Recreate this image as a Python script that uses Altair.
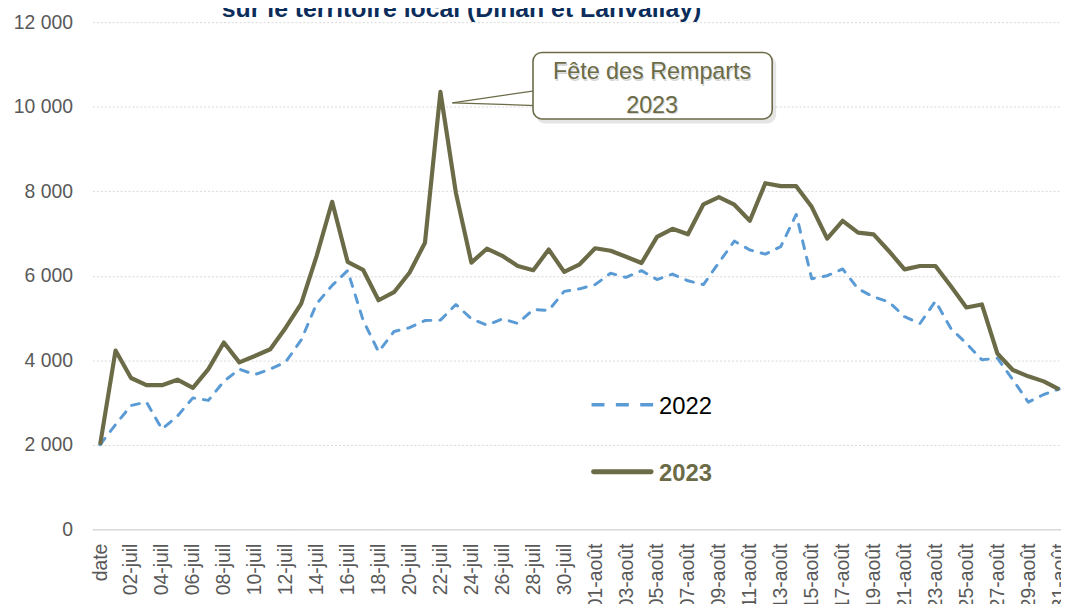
import altair as alt
import pandas as pd

# ---------------- data ----------------
cats = ["date"] + [f"{d:02d}-juil" for d in range(1, 32)] + [f"{d:02d}-août" for d in range(1, 32)]
tick_labels = cats[::2]
y_ticks = [0, 2000, 4000, 6000, 8000, 10000, 12000]

v2022 = [2000, 2480, 2930, 3010, 2370, 2680, 3110, 3050, 3500, 3790,
         3660, 3790, 3960, 4480, 5340, 5770, 6120, 4950, 4200, 4680,
         4770, 4940, 4950, 5320, 4980, 4830, 4980, 4870, 5200, 5180,
         5630, 5690, 5790, 6060, 5960, 6120, 5910, 6040, 5880, 5790,
         6310, 6820, 6610, 6510, 6690, 7450, 5930, 6000, 6160, 5690,
         5500, 5380, 5030, 4870, 5400, 4750, 4400, 4010, 4050, 3540,
         3010, 3190, 3320]

v2023 = [2000, 4230, 3580, 3410, 3410, 3540, 3345, 3790, 4420, 3950,
         4100, 4260, 4770, 5340, 6470, 7750, 6330, 6140, 5420, 5610,
         6070, 6780, 10350, 7960, 6310, 6640, 6470, 6230, 6130, 6620,
         6090, 6270, 6650, 6590, 6450, 6300, 6920, 7110, 6980, 7690,
         7860, 7680, 7300, 8190, 8120, 8120, 7630, 6880, 7300, 7020,
         6980, 6580, 6150, 6230, 6230, 5750, 5250, 5320, 4160, 3770,
         3620, 3500, 3310]

series_names = ["2022", "2023"]
title_text = "sur le territoire local (Dinan et Lanvallay)"
note_lines = ["Fête des Remparts", "2023"]
peak_cat = "22-juil"
peak_val = 10350

# ---------------- styles ----------------
OLIVE = "#6b6b47"
BLUE = "#5b9bd5"
NAVY = "#0b2d5b"
GRAY = "#595959"
GRID = "#d9d9d9"
FONT = "Liberation Sans"

df22 = pd.DataFrame({"cat": cats, "value": v2022})
df23 = pd.DataFrame({"cat": cats, "value": v2023})
one = pd.DataFrame({"k": [0]})
peak_df = pd.DataFrame({"cat": [peak_cat], "value": [peak_val]})

xscale = alt.Scale(type="point", domain=cats, range=[0, 982], padding=0.5)
yscale = alt.Scale(domain=[0, 12000])

X = alt.X("cat:N", scale=xscale, title=None,
          axis=alt.Axis(values=tick_labels, labelAngle=-90, labelPadding=14,
                        ticks=False, grid=False, domain=True, domainColor=GRID,
                        domainWidth=1.5, labelOverlap=False, labelFlush=False,
                        labelFontSize=19.5, labelColor=GRAY, labelFont=FONT))
Y = alt.Y("value:Q", scale=yscale, title=None,
          axis=alt.Axis(values=y_ticks, domain=False, ticks=False, labelPadding=20,
                        labelFontSize=19.5, labelColor=GRAY, labelFont=FONT,
                        grid=True, gridColor=GRID, gridDash=[2, 2], gridWidth=1,
                        labelExpr="replace(format(datum.value, ','), ',', ' ')"))

line22 = alt.Chart(df22).mark_line(color=BLUE, strokeWidth=3, strokeDash=[8, 9],
                                   strokeCap="round", strokeJoin="round").encode(x=X, y=Y)
line23 = alt.Chart(df23).mark_line(color=OLIVE, strokeWidth=4.2,
                                   strokeJoin="round").encode(x=X, y=Y)

# ---------------- annotation ----------------
tail_up = alt.Chart(peak_df).mark_rule(color=OLIVE, strokeWidth=1.3, xOffset=12, yOffset=11).encode(
    x=X, y=Y, x2=alt.value(447), y2=alt.value(69))
tail_lo = alt.Chart(peak_df).mark_rule(color=OLIVE, strokeWidth=1.3, xOffset=12, yOffset=11).encode(
    x=X, y=Y, x2=alt.value(447), y2=alt.value(84))

shadow = alt.Chart(one).mark_rect(fill="#000000", opacity=0.10, cornerRadius=9).encode(
    x=alt.value(447), x2=alt.value(689), y=alt.value(34), y2=alt.value(102))
box = alt.Chart(one).mark_rect(fill="white", stroke=OLIVE, strokeWidth=1.6, cornerRadius=9).encode(
    x=alt.value(444), x2=alt.value(685), y=alt.value(30.5), y2=alt.value(97.5))

note_layers = []
for txt, yb in zip(note_lines, [57.5, 91.5]):
    note_layers.append(
        alt.Chart(one).mark_text(font=FONT, fontSize=23.5, color="#000000", opacity=0.16,
                                 align="center", baseline="alphabetic", dx=1, dy=1.5).encode(
            x=alt.value(564), y=alt.value(yb), text=alt.value(txt)))
    note_layers.append(
        alt.Chart(one).mark_text(font=FONT, fontSize=23.5, color=OLIVE,
                                 align="center", baseline="alphabetic").encode(
            x=alt.value(564), y=alt.value(yb), text=alt.value(txt)))

# ---------------- legend ----------------
leg22_line = alt.Chart(one).mark_rule(color=BLUE, strokeWidth=3.3, strokeDash=[13, 11.5]).encode(
    x=alt.value(503), x2=alt.value(566), y=alt.value(385.5))
leg23_line = alt.Chart(one).mark_rule(color=OLIVE, strokeWidth=5, strokeCap="round").encode(
    x=alt.value(505), x2=alt.value(563), y=alt.value(453))
leg22_text = alt.Chart(one).mark_text(font=FONT, fontSize=24, color="black", align="left",
                                      baseline="alphabetic").encode(
    x=alt.value(571), y=alt.value(394.5), text=alt.value(series_names[0]))
leg23_text = alt.Chart(one).mark_text(font=FONT, fontSize=24, fontWeight="bold", color=OLIVE,
                                      align="left", baseline="alphabetic").encode(
    x=alt.value(571), y=alt.value(462.5), text=alt.value(series_names[1]))

# ---------------- (partially visible) title ----------------
title = alt.Chart(one).mark_text(font=FONT, fontSize=25, fontWeight="bold", color=NAVY,
                                 align="center", baseline="alphabetic").encode(
    x=alt.value(372), y=alt.value(-5), text=alt.value(title_text))

chart = alt.layer(
    line22, line23, tail_up, tail_lo, shadow, box, *note_layers,
    leg22_line, leg23_line, leg22_text, leg23_text, title
).properties(
    width=976, height=511,
    padding={"left": 85, "top": 12, "right": 0, "bottom": 73},
    autosize=alt.AutoSizeParams(type="none"),
).configure_view(stroke=None)

chart.save("out.html", embed_options={"renderer": "svg", "actions": False})
